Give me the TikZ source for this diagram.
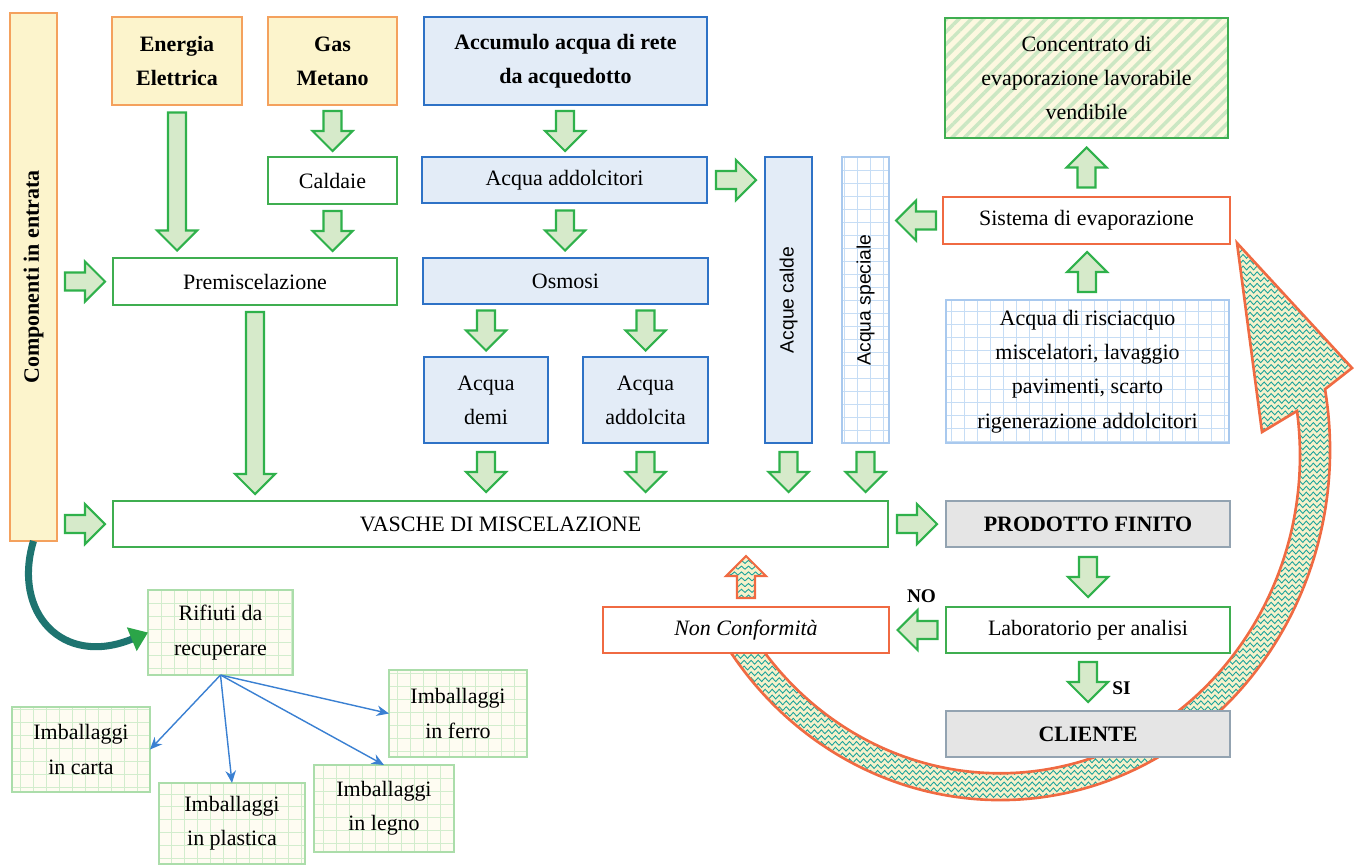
\documentclass[tikz,border=0pt]{standalone}
\usepackage{fontspec}
\setmainfont{Liberation Serif}
\newfontfamily\sansf{Liberation Sans}
\usetikzlibrary{arrows.meta,calc,decorations.pathmorphing,patterns.meta}
\definecolor{arancio}{HTML}{F4A15D}
\definecolor{giallino}{HTML}{FCF4CC}
\definecolor{blu}{HTML}{2E72C6}
\definecolor{azzurrino}{HTML}{E3ECF7}
\definecolor{verdebordo}{HTML}{3FAE50}
\definecolor{rossobordo}{HTML}{F06A42}
\definecolor{grigiofondo}{HTML}{E5E5E5}
\definecolor{grigiobordo}{HTML}{93A3B1}
\definecolor{azzurrobordo}{HTML}{A9C9EE}
\definecolor{azzurrogriglia}{HTML}{C6DDF5}
\definecolor{verdechiaro}{HTML}{ABDDAA}
\definecolor{verdegriglia}{HTML}{D2EDCD}
\definecolor{verderighe}{HTML}{CBE7C3}
\definecolor{frecciabordo}{HTML}{2FB14B}
\definecolor{frecciafondo}{HTML}{D6EACA}
\definecolor{zigcol}{HTML}{1BA39A}
\definecolor{zigfondo}{HTML}{F6F1CB}
\definecolor{bluarr}{HTML}{3A80D2}
\definecolor{curvacol}{HTML}{1E7470}
\definecolor{curvapunta}{HTML}{2BA548}
\newcommand{\fnorm}{\fontsize{12.5}{19.5}\selectfont}
\tikzdeclarepattern{name=zig, type=colored,
  bottom left={(-0.1pt,-0.1pt)}, top right={(4.1pt,3.4pt)}, tile size={(4pt,3.3pt)},
  code={\draw[zigcol, line width=0.5pt] (0pt,0.6pt) -- (2pt,2.4pt) -- (4pt,0.6pt);}}
\tikzset{
wh/.style 2 args={minimum width=#1*0.02cm, minimum height=#2*0.02cm},
scatola/.style={align=center, inner sep=0pt, outer sep=0pt, font=\fnorm, line width=1.5pt},
ingresso/.style={scatola, draw=arancio, fill=giallino, font=\fnorm\bfseries},
acqua/.style={scatola, draw=blu, fill=azzurrino},
verde/.style={scatola, draw=verdebordo, fill=white},
grigio/.style={scatola, draw=grigiobordo, fill=grigiofondo, font=\fnorm\bfseries},
rosso/.style={scatola, draw=rossobordo, fill=white},
grassetto/.style={font=\fnorm\bfseries},
sans/.style={font=\sansf\fontsize{11}{13}\selectfont},
griglia/.style={path picture={\draw[#1, line width=0.5pt] (path picture bounding box.south west) grid[step=0.26cm] (path picture bounding box.north east);}},
grigliablu/.style={scatola, draw=azzurrobordo, line width=1pt, fill=white, griglia=azzurrogriglia},
grigliaverde/.style={scatola, draw=verdechiaro, line width=1pt, fill=giallino!25, griglia=verdegriglia},
tratteggio/.style={scatola, draw=verdebordo, preaction={fill=giallino!60}, pattern={Lines[angle=45,distance=5pt,line width=2pt]}, pattern color=verderighe},
zigriga/.style={draw=zigcol, line width=0.5pt, decorate, decoration={zigzag, segment length=4pt, amplitude=1.1pt}},
zigzag/.style={fill=zigfondo, path picture={\foreach \r in {0,...,#1} \draw[zigriga] ([yshift=-\r*3.3pt-1pt]path picture bounding box.north west) -- ([yshift=-\r*3.3pt-1pt]path picture bounding box.north east);}},
gfreccia/.style={draw=frecciabordo, fill=frecciafondo, line width=1.2pt},
ofreccia/.style={draw=rossobordo, line width=1.2pt, preaction={fill=zigfondo}, pattern=zig},
grande/.style={draw=rossobordo, line width=1.5pt, zigzag=100},
blufreccia/.style={draw=bluarr, line width=0.8pt, -{Stealth[length=7pt,width=6pt]}},
curva/.style={draw=curvacol, line width=4pt, -{Triangle[length=10pt,width=14pt,color=curvapunta]}},
etichetta/.style={font=\fontsize{11}{13}\selectfont\bfseries, inner sep=0pt},
pics/freccia/.style 2 args={code={
  \path[#2] (-#1/2,-9) -- (#1/2-20,-9) -- (#1/2-20,-20) -- (#1/2,0)
    -- (#1/2-20,20) -- (#1/2-20,9) -- (-#1/2,9) -- cycle;}}
}

\begin{document}
\begin{tikzpicture}[x=0.02cm, y=-0.02cm]
\useasboundingbox[fill=white] (0,0) rectangle (1358,866);

% freccia di ritorno
\path[grande] ({1000+330*cos(150)},{450+350*sin(150)})
  arc[start angle=150, end angle=-10, x radius=330, y radius=350]
  -- (1352,368) -- (1237,243) -- (1262,432) -- (1297,411)
  arc[start angle=-8, end angle=150, x radius=300, y radius=318] -- cycle;

\node[ingresso, wh={528}{47}, rotate=90] (comp) at (33.5,277) {Componenti in entrata};
\node[ingresso, wh={130}{88}] (energia) at (177,61) {Energia\\Elettrica};
\node[ingresso, wh={129}{88}] (gas) at (332.5,61) {Gas\\Metano};
\node[acqua, grassetto, wh={283}{88}] (accumulo) at (565.5,61) {Accumulo acqua di rete\\da acquedotto};
\node[verde, wh={129}{47}] (caldaie) at (332.5,180.5) {Caldaie};
\node[acqua, wh={285}{46}] (addolc) at (564.5,180) {Acqua addolcitori};
\node[verde, wh={284}{47}] (premisc) at (255,281.5) {Premiscelazione};
\node[acqua, wh={285}{46}] (osmosi) at (565.5,281) {Osmosi};
\node[acqua, wh={124}{86}] (demi) at (486,400) {Acqua\\demi};
\node[acqua, wh={125}{86}] (addolcita) at (645.5,400) {Acqua\\addolcita};
\node[acqua, sans, wh={286}{47}, rotate=90] (calde) at (788.5,300) {Acque calde};
\node[grigliablu, sans, wh={286}{47}, rotate=90] (speciale) at (865.5,300) {Acqua speciale};
\node[verde, wh={775}{46}] (vasche) at (500.5,524) {VASCHE DI MISCELAZIONE};
\node[grigio, wh={284}{46}] (prodotto) at (1088,524) {PRODOTTO FINITO};
\node[verde, wh={284}{46}] (lab) at (1088,630) {Laboratorio per analisi};
\node[grigio, wh={284}{46}] (cliente) at (1088,734) {CLIENTE};
\node[rosso, wh={286}{46}, font=\fnorm\itshape] (nonconf) at (746,630) {Non Conformità};
\node[tratteggio, wh={283}{120}] (concentrato) at (1086.5,78) {Concentrato di\\evaporazione lavorabile\\vendibile};
\node[rosso, wh={287}{47}] (sistema) at (1086.5,220.5) {Sistema di evaporazione};
\node[grigliablu, wh={283}{143}] (risciacquo) at (1087.5,371.5) {Acqua di risciacquo\\miscelatori, lavaggio\\pavimenti, scarto\\rigenerazione addolcitori};
\node[grigliaverde, wh={145}{85}] (rifiuti) at (220.5,632.5) {Rifiuti da\\recuperare};
\node[grigliaverde, wh={138}{85}] (carta) at (81,749.5) {Imballaggi\\in carta};
\node[grigliaverde, wh={146}{81}] (plastica) at (232,823.5) {Imballaggi\\in plastica};
\node[grigliaverde, wh={140}{87}] (legno) at (384,808.5) {Imballaggi\\in legno};
\node[grigliaverde, wh={138}{87}] (ferro) at (458,713.5) {Imballaggi\\in ferro};

% frecce in basso
\pic[rotate=-90] at ($(energia.south)!.5!(energia.south |- premisc.north)$) {freccia={138}{gfreccia}};
\pic[rotate=-90] at ($(gas.south)!.5!(caldaie.north)$) {freccia={40}{gfreccia}};
\pic[rotate=-90] at ($(caldaie.south)!.5!(caldaie.south |- premisc.north)$) {freccia={40}{gfreccia}};
\pic[rotate=-90] at ($(accumulo.south)!.5!(addolc.north)$) {freccia={40}{gfreccia}};
\pic[rotate=-90] at ($(addolc.south)!.5!(osmosi.north)$) {freccia={40}{gfreccia}};
\pic[rotate=-90] at ($(demi.north |- osmosi.south)!.5!(demi.north)$) {freccia={40}{gfreccia}};
\pic[rotate=-90] at ($(addolcita.north |- osmosi.south)!.5!(addolcita.north)$) {freccia={40}{gfreccia}};
\pic[rotate=-90] at ($(premisc.south)!.5!(premisc.south |- vasche.north)$) {freccia={182}{gfreccia}};
\pic[rotate=-90] at ($(demi.south)!.5!(demi.south |- vasche.north)$) {freccia={40}{gfreccia}};
\pic[rotate=-90] at ($(addolcita.south)!.5!(addolcita.south |- vasche.north)$) {freccia={40}{gfreccia}};
\pic[rotate=-90] at ($(calde.west)!.5!(calde.west |- vasche.north)$) {freccia={40}{gfreccia}};
\pic[rotate=-90] at ($(speciale.west)!.5!(speciale.west |- vasche.north)$) {freccia={40}{gfreccia}};
\pic[rotate=-90] at ($(prodotto.south)!.5!(lab.north)$) {freccia={40}{gfreccia}};
\coordinate (si) at ($(lab.south)!.5!(cliente.north)$);
\pic[rotate=-90] at (si) {freccia={40}{gfreccia}};
\node[etichetta, anchor=west] at ($(si)+(24,6)$) {SI};

% frecce in alto
\pic[rotate=90] at ($(risciacquo.north)!.5!(sistema.south)$) {freccia={40}{gfreccia}};
\pic[rotate=90] at ($(sistema.north)!.5!(concentrato.south)$) {freccia={40}{gfreccia}};
\pic[rotate=90] at ($(nonconf.north)!.5!(nonconf.north |- vasche.south)$) {freccia={42}{ofreccia}};

% frecce laterali
\pic at ($(comp.south |- premisc.west)!.5!(premisc.west)$) {freccia={40}{gfreccia}};
\pic at ($(comp.south |- vasche.west)!.5!(vasche.west)$) {freccia={40}{gfreccia}};
\pic at ($(addolc.east)!.5!(calde.north |- addolc.east)$) {freccia={40}{gfreccia}};
\pic at ($(vasche.east)!.5!(prodotto.west)$) {freccia={40}{gfreccia}};
\pic[rotate=180] at ($(sistema.west)!.5!(speciale.south |- sistema.west)$) {freccia={40}{gfreccia}};
\coordinate (no) at ($(lab.west)!.5!(nonconf.east)$);
\pic[rotate=180] at (no) {freccia={40}{gfreccia}};
\node[etichetta] at ($(no)+(4,-34)$) {NO};

% rifiuti
\draw[curva] (comp.west) .. controls (12,612) and (62,668) .. (rifiuti.west);
\draw[blufreccia] (rifiuti.south) -- (carta.east);
\draw[blufreccia] (rifiuti.south) -- (plastica.north);
\draw[blufreccia] (rifiuti.south) -- (legno.north);
\draw[blufreccia] (rifiuti.south) -- (ferro.west);
\end{tikzpicture}
\end{document}
